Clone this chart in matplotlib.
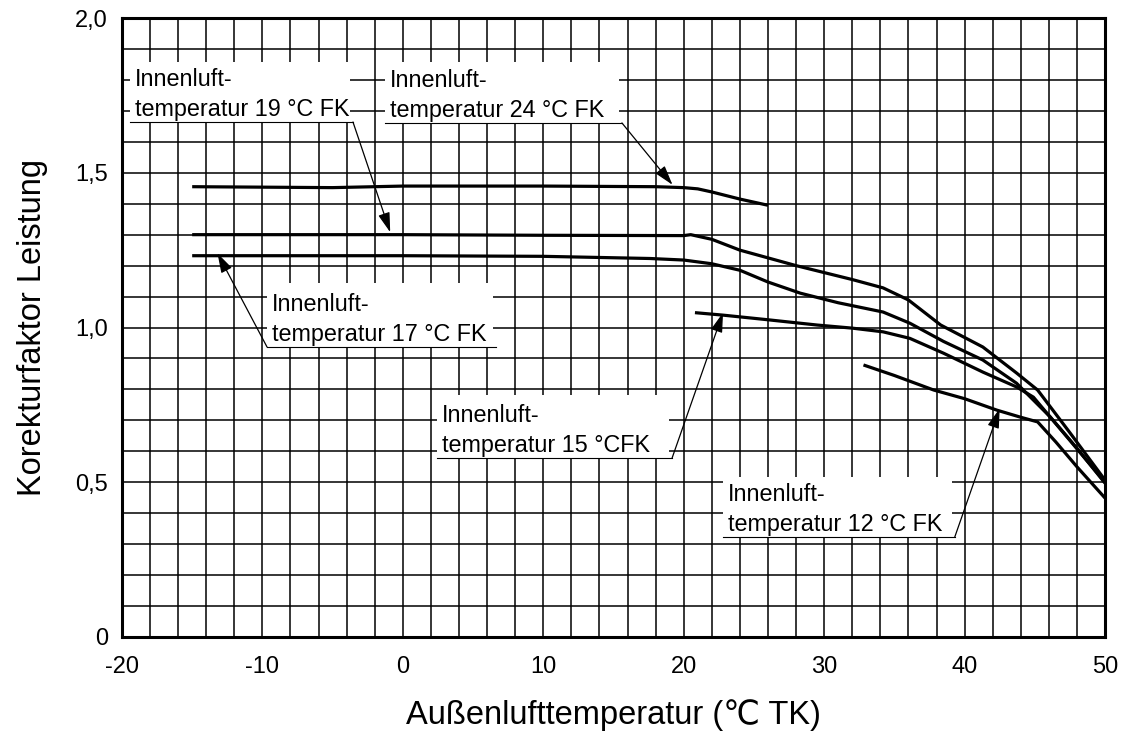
import numpy as np
import matplotlib
matplotlib.use('Agg')
import matplotlib.pyplot as plt
from matplotlib.patches import Rectangle

plt.rcParams['font.family'] = ['Liberation Sans', 'DejaVu Sans']
plt.rcParams['axes.unicode_minus'] = False

# Correction factor curves (outdoor temp in deg C TK -> factor)
t24_x = [-15, -5, 0, 10, 18, 20, 21, 22, 24, 26]
t24_y = [1.455, 1.452, 1.457, 1.457, 1.455, 1.452, 1.448, 1.438, 1.415, 1.395]

t19_x = [-15, 0, 10, 20, 20.5, 22, 24, 28, 32, 34.2, 36, 38.3, 41.3, 43.7, 45.2, 47.5, 50]
t19_y = [1.300, 1.300, 1.298, 1.297, 1.300, 1.285, 1.25, 1.20, 1.155, 1.128, 1.089,
         1.008, 0.937, 0.853, 0.798, 0.66, 0.507]

t17_x = [-15, 0, 10, 17.6, 20, 22, 24, 26, 28.3, 31, 34.2, 36.1, 38.5, 41.3, 43.7, 46.1, 48, 50]
t17_y = [1.232, 1.232, 1.230, 1.223, 1.218, 1.206, 1.185, 1.147, 1.111, 1.08, 1.05, 1.014,
         0.955, 0.895, 0.82, 0.711, 0.61, 0.497]

t15_x = [20.8, 22.8, 26, 29.5, 32, 34.2, 36.1, 38.5, 41.3, 43.7, 44.9, 47.3, 50]
t15_y = [1.048, 1.040, 1.025, 1.008, 0.998, 0.986, 0.965, 0.917, 0.856, 0.808, 0.775, 0.646, 0.50]

t12_x = [32.8, 35, 37.8, 40, 42.3, 44, 45.2, 46.5, 48, 50]
t12_y = [0.879, 0.845, 0.798, 0.77, 0.733, 0.71, 0.695, 0.63, 0.55, 0.449]

x_ticks = [-20, -10, 0, 10, 20, 30, 40, 50]
y_ticks = [0, 0.5, 1.0, 1.5, 2.0]
y_tick_labels = ['0', '0,5', '1,0', '1,5', '2,0']

fig = plt.figure(figsize=(11.23, 7.51), dpi=100)
ax = fig.add_axes([0.1086, 0.1518, 0.8754, 0.8242])

ax.set_xlim(-20, 50)
ax.set_ylim(0, 2.0)
ax.set_xticks(x_ticks)
ax.set_yticks(y_ticks)
ax.set_yticklabels(y_tick_labels)
ax.set_xticks(np.arange(-20, 51, 2), minor=True)
ax.set_yticks(np.arange(0, 2.01, 0.1), minor=True)
ax.tick_params(which='both', length=0)
ax.tick_params(axis='x', labelsize=17, pad=14)
ax.tick_params(axis='y', labelsize=17, pad=10)
ax.grid(True, which='both', color='black', linewidth=1.1)
ax.set_axisbelow(True)
for s in ax.spines.values():
    s.set_linewidth(2.2)

curves = [(t24_x, t24_y), (t19_x, t19_y), (t17_x, t17_y), (t15_x, t15_y), (t12_x, t12_y)]
for cx, cy in curves:
    ax.plot(cx, cy, color='black', linewidth=2.3, zorder=3, solid_capstyle='butt')

ax.set_ylabel('Korekturfaktor Leistung', fontsize=23.5, labelpad=20)
ax.set_xlabel('Außenlufttemperatur (℃ TK)', fontsize=23.5, labelpad=15)

# label boxes: (x0, x1, y_top, y_under, text, curve, tip_x, leader side)
labels = [
    (-19.43, -3.55, 1.858, 1.664, 'Innenluft-\ntemperatur 19 °C FK', (t19_x, t19_y), -0.9, 'right'),
    (-1.27, 15.6, 1.858, 1.661, 'Innenluft-\ntemperatur 24 °C FK', (t24_x, t24_y), 19.2, 'right'),
    (-9.67, 6.6, 1.144, 0.937, 'Innenluft-\ntemperatur 17 °C FK', (t17_x, t17_y), -13.2, 'left'),
    (2.43, 19.17, 0.782, 0.578, 'Innenluft-\ntemperatur 15 °CFK', (t15_x, t15_y), 22.8, 'right'),
    (22.8, 39.3, 0.517, 0.323, 'Innenluft-\ntemperatur 12 °C FK', (t12_x, t12_y), 42.5, 'right'),
]
for x0, x1, yt, yu, txt, (cx, cy), tip_x, side in labels:
    ax.add_patch(Rectangle((x0, yu), x1 - x0 - 0.2, yt - yu, facecolor='white',
                           edgecolor='none', zorder=2))
    ax.plot([x0, x1], [yu, yu], color='black', linewidth=0.8, zorder=4)
    ax.text(x0 + 0.35, yu + 0.004, txt, fontsize=16.8, ha='left', va='bottom',
            linespacing=1.4, zorder=4)
    tip_y = np.interp(tip_x, cx, cy) + 0.008
    start = (x1, yu) if side == 'right' else (x0, yu)
    ax.annotate('', xy=(tip_x, tip_y), xytext=start, zorder=4,
                arrowprops=dict(arrowstyle='-|>,head_length=0.6,head_width=0.18',
                                mutation_scale=20, color='black', lw=0.9,
                                shrinkA=0, shrinkB=0))

plt.savefig('out.png', dpi=100)
